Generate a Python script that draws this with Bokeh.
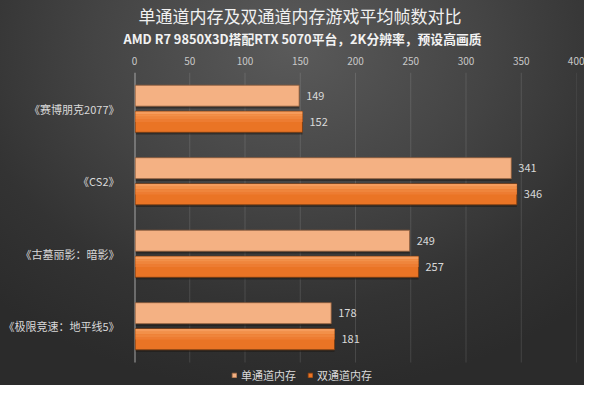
from bokeh.embed import file_html
from bokeh.resources import INLINE
from bokeh.models import (ColumnDataSource, Range1d, FixedTicker,
                          Legend, LegendItem, Title)
from bokeh.plotting import figure

# data
games = ["《赛博朋克2077》", "《CS2》", "《古墓丽影：暗影》", "《极限竞速：地平线5》"]
single_channel = [149, 341, 249, 178]
dual_channel = [152, 346, 257, 181]
x_ticks = [0, 50, 100, 150, 200, 250, 300, 350, 400]
series_names = ["单通道内存", "双通道内存"]

FONT = "Noto Sans CJK SC"
TEXT = "#d9d9d9"

n = len(games)
ypos = [n - 0.5 - i for i in range(n)]  # first game at the top
H = 0.29
OFF = 0.18

source = ColumnDataSource(data=dict(
    y_single=[y + OFF for y in ypos],
    y_dual=[y - OFF for y in ypos],
    single=single_channel,
    dual=dual_channel,
    single_txt=[str(v) for v in single_channel],
    dual_txt=[str(v) for v in dual_channel],
))

# extra room under the last category holds the legend
p = figure(width=584, height=385, output_backend="svg", toolbar_location=None,
           y_range=Range1d(-0.317, n), x_range=Range1d(0, 400),
           x_axis_location="above",
           min_border_left=133, min_border_right=8, min_border_top=72,
           min_border_bottom=0)

p.styles = {"background": "radial-gradient(ellipse 75% 90% at 50% 12%, "
                          "#5a5a5a 0%, #444444 45%, #333333 75%, #2b2b2b 100%)"}
p.background_fill_alpha = 0
p.border_fill_alpha = 0
p.outline_line_color = None

# titles (added bottom-up), left aligned with offsets so they sit mid-chart
p.add_layout(Title(text="AMD R7 9850X3D搭配RTX 5070平台，2K分辨率，预设高画质",
                   align="left", offset=-11, text_font=FONT, text_font_size="12.8px",
                   text_font_style="bold", text_color="#f2f2f2", standoff=12), "above")
p.add_layout(Title(text="单通道内存及双通道内存游戏平均帧数对比",
                   align="left", offset=4, text_font=FONT, text_font_size="17px",
                   text_font_style="normal", text_color="#f0f0f0", standoff=-14), "above")

# grid lines and the value axis line, only over the category area
p.segment(x0=x_ticks[1:], x1=x_ticks[1:], y0=0, y1=n, line_color="#ffffff",
          line_alpha=0.12, line_width=1)
p.segment(x0=0, x1=0, y0=0, y1=n, line_color="#a6a6a6", line_width=2)

sub = ColumnDataSource(data=dict(
    ys=[y + OFF - 0.03 for y in ypos], yd=[y - OFF - 0.03 for y in ypos],
    single=single_channel, dual=dual_channel))
# shadows
p.hbar(y="ys", left=1.2, right="single", height=H, source=sub,
       fill_color="#1e1a16", fill_alpha=0.55, line_color=None)
p.hbar(y="yd", left=1.2, right="dual", height=H, source=sub,
       fill_color="#1e1a16", fill_alpha=0.55, line_color=None)

r_single = p.hbar(y="y_single", left=0.6, right="single", height=H, source=source,
                  fill_color="#F4B183", line_color="#8a5a3a", line_width=0.8)
r_dual = p.hbar(y="y_dual", left=0.6, right="dual", height=H, source=source,
                fill_color="#EA7425", line_color="#7a3c12", line_width=0.8)
# lighter upper part of the dual bars for a soft gradient look
strip_colors = ["#F59C5C", "#F29049", "#EF853C", "#ED7C32"]
sh = H / 8
for i, c in enumerate(strip_colors):
    p.hbar(y=[y - OFF + H / 2 - sh / 2 - 0.004 - i * sh for y in ypos],
           left=0.9, right=dual_channel, height=sh, fill_color=c, line_color=None)

# value labels
p.text(x="single", y="y_single", text="single_txt", source=source, x_offset=7,
       text_baseline="middle", text_align="left", text_font_size="11px",
       text_color=TEXT, text_font={"value": FONT})
p.text(x="dual", y="y_dual", text="dual_txt", source=source, x_offset=7,
       text_baseline="middle", text_align="left", text_font_size="11px",
       text_color=TEXT, text_font={"value": FONT})

# axes
p.xaxis.ticker = FixedTicker(ticks=x_ticks)
p.xaxis.axis_line_color = None
p.xaxis.major_tick_line_color = None
p.xaxis.minor_tick_line_color = None
p.xaxis.major_label_text_font = FONT
p.xaxis.major_label_text_font_size = "10px"
p.xaxis.major_label_text_color = "#c8c8c8"
p.xaxis.major_label_standoff = 2

p.yaxis.ticker = FixedTicker(ticks=ypos)
p.yaxis.major_label_overrides = {y: g for y, g in zip(ypos, games)}
p.yaxis.axis_line_color = None
p.yaxis.major_tick_line_color = None
p.yaxis.minor_tick_line_color = None
p.yaxis.major_label_text_font = FONT
p.yaxis.major_label_text_font_size = "11px"
p.yaxis.major_label_text_color = TEXT
p.yaxis.major_label_standoff = 9

p.xgrid.grid_line_color = None
p.ygrid.grid_line_color = None

legend = Legend(items=[LegendItem(label=series_names[0], renderers=[r_single]),
                       LegendItem(label=series_names[1], renderers=[r_dual])],
                orientation="horizontal", location=(97, 2),
                glyph_width=6, glyph_height=6, label_standoff=4, spacing=11,
                label_text_font=FONT, label_text_font_size="11px",
                label_text_color=TEXT, background_fill_alpha=0,
                border_line_color=None, padding=2, margin=0)
p.add_layout(legend, "center")

open("out.html", "w").write(file_html(p, INLINE))
